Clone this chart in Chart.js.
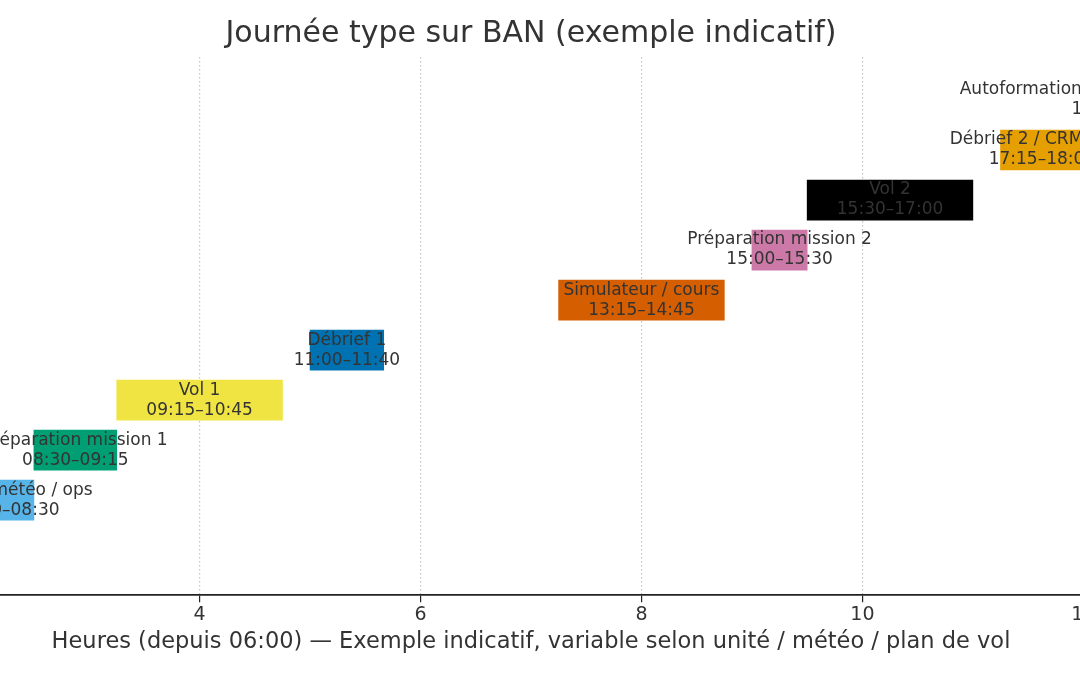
<!DOCTYPE html>
<html>
<head>
<meta charset="utf-8">
<script src="https://cdn.jsdelivr.net/npm/chart.js@4.4.1/dist/chart.umd.min.js"></script>
<style>
html, body { margin: 0; padding: 0; background: #fff; }
#frame { position: relative; width: 1080px; height: 675px; overflow: hidden; }
#wrap { position: absolute; left: -100px; top: 0; width: 1300px; height: 675px; }
</style>
</head>
<body>
<div id="frame"><div id="wrap"><canvas id="dayChart"></canvas></div></div>
<script>
// data (hours counted from 06:00)
const tasks = ['Briefing météo / ops', 'Préparation mission 1', 'Vol 1', 'Débrief 1',
               'Simulateur / cours', 'Préparation mission 2', 'Vol 2', 'Débrief 2 / CRM / REX',
               'Autoformation / révision / administratif'];
const startTimes = ['08:00', '08:30', '09:15', '11:00', '13:15', '15:00', '15:30', '17:15', '18:00'];
const endTimes   = ['08:30', '09:15', '10:45', '11:40', '14:45', '15:30', '17:00', '18:00', '18:45'];
const barColors  = ['#56B4E9', '#009E73', '#F0E442', '#0072B2', '#D55E00', '#CC79A7', '#000000', '#E69F00', '#56B4E9'];
const xTicks = [2, 4, 6, 8, 10, 12];

const FONT = '"DejaVu Sans", sans-serif';
const TEXT = '#333333';

function hoursSince6(t) {
    const [h, m] = t.split(':').map(Number);
    return h - 6 + m / 60;
}

const barLabels = {
    id: 'barLabels',
    afterDatasetsDraw(chart) {
        const ctx = chart.ctx;
        const meta = chart.getDatasetMeta(0);
        ctx.save();
        ctx.font = '17px ' + FONT;
        ctx.fillStyle = TEXT;
        ctx.textAlign = 'center';
        ctx.textBaseline = 'middle';
        meta.data.forEach((bar, i) => {
            const { x, base, y } = bar.getProps(['x', 'base', 'y'], true);
            const cx = (x + base) / 2;
            ctx.fillText(tasks[i], cx, y - 10);
            ctx.fillText(startTimes[i] + '–' + endTimes[i], cx, y + 10);
        });
        ctx.restore();
    }
};

const chart = new Chart(document.getElementById('dayChart'), {
    type: 'bar',
    data: {
        datasets: [{
            data: tasks.map((t, i) => ({ x: [hoursSince6(startTimes[i]), hoursSince6(endTimes[i])], y: i })),
            backgroundColor: barColors,
            borderWidth: 0,
            barThickness: 40
        }]
    },
    options: {
        indexAxis: 'y',
        responsive: true,
        maintainAspectRatio: false,
        animation: false,
        layout: { padding: { left: 40, right: 78, top: 0, bottom: 15 } },
        plugins: {
            legend: { display: false },
            tooltip: { enabled: false },
            title: {
                display: true,
                fullSize: false,
                text: 'Journée type sur BAN (exemple indicatif)',
                color: TEXT,
                font: { family: FONT, size: 30, weight: 'normal' },
                padding: { top: 16, bottom: 5 }
            }
        },
        scales: {
            x: {
                type: 'linear',
                min: 1.65,
                max: 12.35,
                afterBuildTicks: axis => { axis.ticks = xTicks.map(v => ({ value: v })); },
                grid: {
                    color: '#c4c4c4',
                    lineWidth: 1.2,
                    tickColor: '#222',
                    tickLength: 7,
                    tickWidth: 1.2
                },
                border: { display: true, color: '#222', width: 1.8, dash: [1.5, 2.5] },
                ticks: {
                    color: TEXT,
                    font: { family: FONT, size: 19 },
                    padding: 1,
                    maxRotation: 0
                },
                title: {
                    display: true,
                    text: 'Heures (depuis 06:00) — Exemple indicatif, variable selon unité / météo / plan de vol',
                    color: TEXT,
                    font: { family: FONT, size: 22.5 },
                    padding: { top: 2, bottom: 4 }
                }
            },
            y: {
                type: 'linear',
                min: -1.9,
                max: 8.86,
                offset: false,
                display: false
            }
        }
    },
    plugins: [barLabels]
});
</script>
</body>
</html>
